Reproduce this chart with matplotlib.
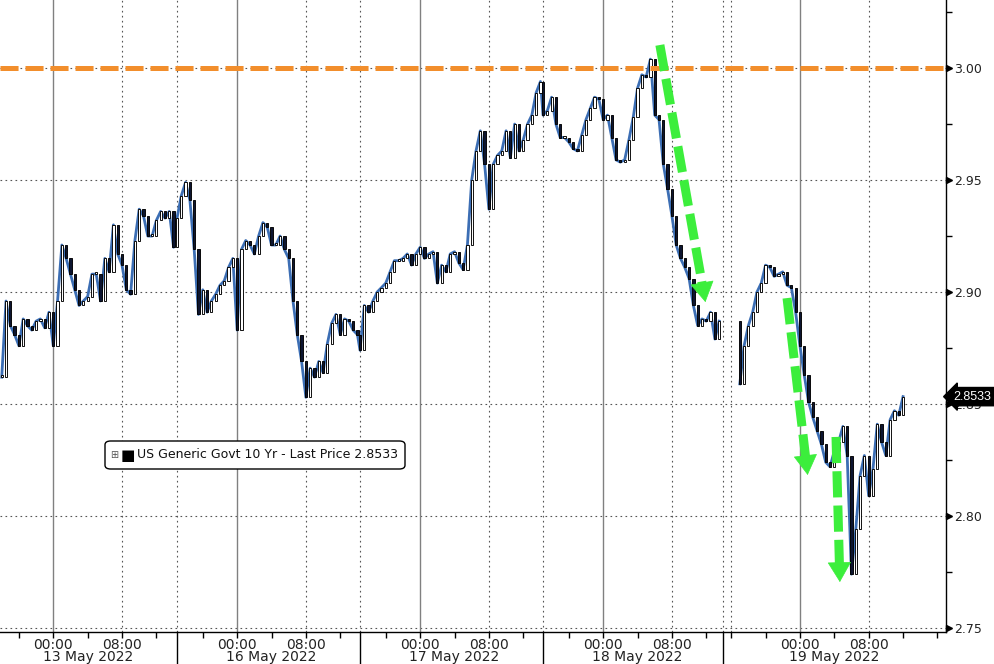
import matplotlib
matplotlib.use("Agg")
import matplotlib.pyplot as plt
from matplotlib import font_manager
from matplotlib.transforms import blended_transform_factory, offset_copy
from matplotlib.patches import FancyBboxPatch
import numpy as np

# ---------------- data ----------------
day_labels = ["13 May 2022", "16 May 2022", "17 May 2022", "18 May 2022", "19 May 2022"]
# trading-session window of each day block, hours relative to that day's midnight
session_start = [-6.2, -7.0, -7.0, -7.0, -9.0]
session_end = [14.4, 14.3, 14.3, 13.9, 17.0]
# time of first 30-minute bar of each day (hours relative to midnight)
first_bar_hour = [-6.0, -7.0, -7.0, -7.0, -7.0]
bar_hours = 0.5

yield_13may = [2.862, 2.896, 2.885, 2.881, 2.876, 2.888, 2.885, 2.883, 2.887, 2.888,
               2.884, 2.891, 2.876, 2.896, 2.921, 2.915, 2.908, 2.901, 2.894, 2.896,
               2.898, 2.908, 2.908, 2.896, 2.915, 2.909, 2.930, 2.917, 2.912, 2.901,
               2.899, 2.923, 2.937, 2.934, 2.925, 2.925, 2.932, 2.936, 2.933, 2.936,
               2.920]
yield_16may = [2.933, 2.943, 2.949, 2.941, 2.919, 2.890, 2.901, 2.891, 2.896, 2.899,
               2.903, 2.905, 2.911, 2.915, 2.883, 2.919, 2.923, 2.921, 2.917, 2.925,
               2.931, 2.929, 2.921, 2.921, 2.925, 2.919, 2.915, 2.896, 2.881, 2.869,
               2.853, 2.866, 2.862, 2.869, 2.864, 2.877, 2.886, 2.890, 2.881, 2.888,
               2.887, 2.883, 2.881]
yield_17may = [2.874, 2.894, 2.891, 2.896, 2.900, 2.902, 2.904, 2.909, 2.914, 2.914,
               2.915, 2.917, 2.912, 2.917, 2.920, 2.915, 2.917, 2.918, 2.904, 2.912,
               2.909, 2.917, 2.918, 2.913, 2.910, 2.921, 2.950, 2.963, 2.972, 2.957,
               2.937, 2.957, 2.961, 2.963, 2.972, 2.960, 2.975, 2.963, 2.968, 2.975,
               2.979, 2.989, 2.994]
yield_18may = [2.979, 2.981, 2.987, 2.975, 2.969, 2.969, 2.967, 2.964, 2.963, 2.970,
               2.977, 2.982, 2.987, 2.986, 2.977, 2.979, 2.969, 2.959, 2.958, 2.959,
               2.968, 2.978, 2.991, 2.997, 2.996, 3.004, 2.979, 2.977, 2.957, 2.946,
               2.934, 2.921, 2.915, 2.911, 2.906, 2.894, 2.885, 2.888, 2.887, 2.891,
               2.879, 2.887]
yield_19may = [2.859, 2.876, 2.885, 2.891, 2.900, 2.904, 2.912, 2.911, 2.907, 2.908,
               2.909, 2.903, 2.902, 2.891, 2.876, 2.863, 2.851, 2.844, 2.838, 2.832,
               2.824, 2.822, 2.829, 2.833, 2.840, 2.827, 2.774, 2.794, 2.818, 2.827,
               2.809, 2.821, 2.841, 2.833, 2.827, 2.843, 2.847, 2.845, 2.8533]
day_series = [yield_13may, yield_16may, yield_17may, yield_18may, yield_19may]

last_price = 2.8533
level_line = 3.00
legend_text = "US Generic Govt 10 Yr - Last Price 2.8533"
y_ticks = [2.75, 2.80, 2.85, 2.90, 2.95, 3.00]
time_tick_hours = [0, 8]
time_tick_labels = ["00:00", "08:00"]
date_label_hour = 4
# annotation arrows: (day index, start hour, start value, end hour, end value)
arrows = [(3, 6.6, 3.0103, 11.9, 2.8955),
          (4, -1.5, 2.8973, 0.9, 2.8183),
          (4, 4.2, 2.8353, 4.65, 2.7705)]

# ---------------- styling ----------------
fonts = {f.name for f in font_manager.fontManager.ttflist}
narrow = "Liberation Sans Narrow" if "Liberation Sans Narrow" in fonts else "DejaVu Sans"
BLUE = "#3c6eb4"
ORANGE = "#f28e2c"
GREEN = "#3cee3c"

fig = plt.figure(figsize=(9.95, 6.64), dpi=100)
ax = fig.add_axes([0, 32 / 664, 946 / 995, 632 / 664])

widths = [e - s for s, e in zip(session_start, session_end)]
offsets = np.concatenate([[0], np.cumsum(widths)[:-1]])
total = float(np.sum(widths))


def cx(day, h):
    return offsets[day] + (h - session_start[day])


xs, closes = [], []
for d, vals in enumerate(day_series):
    for i, v in enumerate(vals):
        xs.append(cx(d, first_bar_hour[d] + i * bar_hours))
        closes.append(v)
xs = np.array(xs)
closes = np.array(closes)
opens = np.concatenate([[closes[0]], closes[:-1]])

# blue close line, broken at session gaps
breaks = np.where(np.diff(xs) > 1.5)[0]
start = 0
for b in list(breaks) + [len(xs) - 1]:
    ax.plot(xs[start:b + 1], closes[start:b + 1], color=BLUE, lw=2.0, zorder=3)
    start = b + 1

# candles
up = closes >= opens
bottoms = np.minimum(opens, closes)
heights = np.maximum(np.abs(closes - opens), 0.0008)
ax.bar(xs[up], heights[up], bottom=bottoms[up], width=0.26, color="white",
       edgecolor="black", linewidth=0.65, zorder=4)
ax.bar(xs[~up], heights[~up], bottom=bottoms[~up], width=0.26, color="#0d1530",
       edgecolor="black", linewidth=0.65, zorder=4)

ax.set_xlim(0, total)
ax.set_ylim(2.7482, 3.0304)

# grid
for yt in y_ticks:
    ax.axhline(yt, color="#555555", lw=0.8, ls=(0, (1.5, 3)), zorder=1)
for d in range(len(day_labels)):
    ax.axvline(cx(d, 0), color="#808080", lw=1.0, zorder=1)
    for h in (-8, 8):
        if session_start[d] <= h <= session_end[d]:
            ax.axvline(cx(d, h), color="#555555", lw=0.8, ls=(0, (1.5, 3)), zorder=1)
for off in offsets[1:]:
    ax.axvline(off, color="#555555", lw=0.8, ls=(0, (1.5, 3)), zorder=1)

# orange 3.00 line
lw_o = 3.6
ax.axhline(level_line, color=ORANGE, lw=lw_o, dashes=(13 / lw_o, 5 / lw_o), zorder=5)

# spines
for s in ("left", "top"):
    ax.spines[s].set_visible(False)
ax.spines["right"].set_linewidth(1.0)
ax.spines["bottom"].set_linewidth(1.0)

# y axis (right)
ax.yaxis.tick_right()
ax.set_yticks(y_ticks)
ax.set_yticklabels(["%.2f" % v for v in y_ticks])
minor_y = [(a + b) / 2 for a, b in zip(y_ticks[:-1], y_ticks[1:])] + [y_ticks[-1] + 0.025]
ax.set_yticks(minor_y, minor=True)
ax.tick_params(axis="y", which="major", length=0, pad=6, labelsize=9, labelcolor="#222222")
ax.tick_params(axis="y", which="minor", length=4, width=1, direction="out")
tri_tr = offset_copy(blended_transform_factory(ax.transAxes, ax.transData), fig=fig, x=3, y=0, units="dots")
ax.plot([1] * len(y_ticks), y_ticks, marker=">", ms=5, ls="none", color="black",
        transform=tri_tr, clip_on=False, zorder=6)

# x axis
major_x, major_lbl, minor_x = [], [], []
for d in range(len(day_labels)):
    for h in range(-12, 24, 4):
        if session_start[d] <= h <= session_end[d]:
            if h in time_tick_hours:
                major_x.append(cx(d, h))
                major_lbl.append(time_tick_labels[time_tick_hours.index(h)])
            else:
                minor_x.append(cx(d, h))
ax.set_xticks(major_x)
ax.set_xticklabels(major_lbl, fontfamily=narrow)
ax.set_xticks(minor_x, minor=True)
ax.tick_params(axis="x", which="both", length=4, width=1, direction="out", pad=0,
               labelsize=10, labelcolor="#222222")

bt = blended_transform_factory(ax.transData, ax.transAxes)
for d, lbl in enumerate(day_labels):
    ax.annotate(lbl, xy=(cx(d, date_label_hour), 0), xycoords=bt, xytext=(0, -18),
                textcoords="offset points", ha="center", va="center", fontsize=10,
                fontfamily=narrow, color="#222222", annotation_clip=False)
for off in offsets[1:]:
    ax.plot([off, off], [0, -0.06], color="black", lw=1.0, transform=bt, clip_on=False)

# last-price tag
ax.annotate("%.4f" % last_price, xy=(1, last_price),
            xycoords=blended_transform_factory(ax.transAxes, ax.transData),
            xytext=(5.5, 0), textcoords="offset points", ha="left", va="center",
            color="white", fontsize=9, fontfamily="Liberation Sans",
            bbox=dict(boxstyle="larrow,pad=0.25", fc="black", ec="black"),
            annotation_clip=False, zorder=10)

# legend box
box = FancyBboxPatch((105 / 946, (632 - 469) / 632), 300 / 946, 28 / 632,
                     boxstyle="round,pad=0,rounding_size=0.006", transform=ax.transAxes,
                     fc="white", ec="black", lw=1.0, zorder=8)
ax.add_patch(box)
ly = (632 - 455) / 632
ax.text(110 / 946, ly, "\u229e", transform=ax.transAxes, fontsize=7, color="#555555",
        va="center", ha="left", zorder=9)
ax.text(121 / 946, ly, "\u25a0", transform=ax.transAxes, fontsize=11, color="black",
        va="center", ha="left", zorder=9)
ax.text(137 / 946, ly, legend_text, transform=ax.transAxes, fontsize=9, color="#111111",
        va="center", ha="left", zorder=9)

# green arrows
fig.canvas.draw()
for d, h0, v0, h1, v1 in arrows:
    p0 = ax.transData.transform((cx(d, h0), v0))
    p1 = ax.transData.transform((cx(d, h1), v1))
    vec = p1 - p0
    L = np.hypot(*vec)
    base = p1 - vec / L * 18
    b_data = ax.transData.inverted().transform(base)
    ax.plot([cx(d, h0), b_data[0]], [v0, b_data[1]], color=GREEN, lw=6.5,
            dashes=(2.9, 0.9), solid_capstyle="butt", dash_capstyle="butt", zorder=7)
    ax.annotate("", xy=(cx(d, h1), v1), xytext=(b_data[0], b_data[1]),
                arrowprops=dict(arrowstyle="-|>,head_length=1.35,head_width=0.8",
                                color=GREEN, lw=0.5, shrinkA=0, shrinkB=0), zorder=7)

fig.savefig("out.png", dpi=100)
